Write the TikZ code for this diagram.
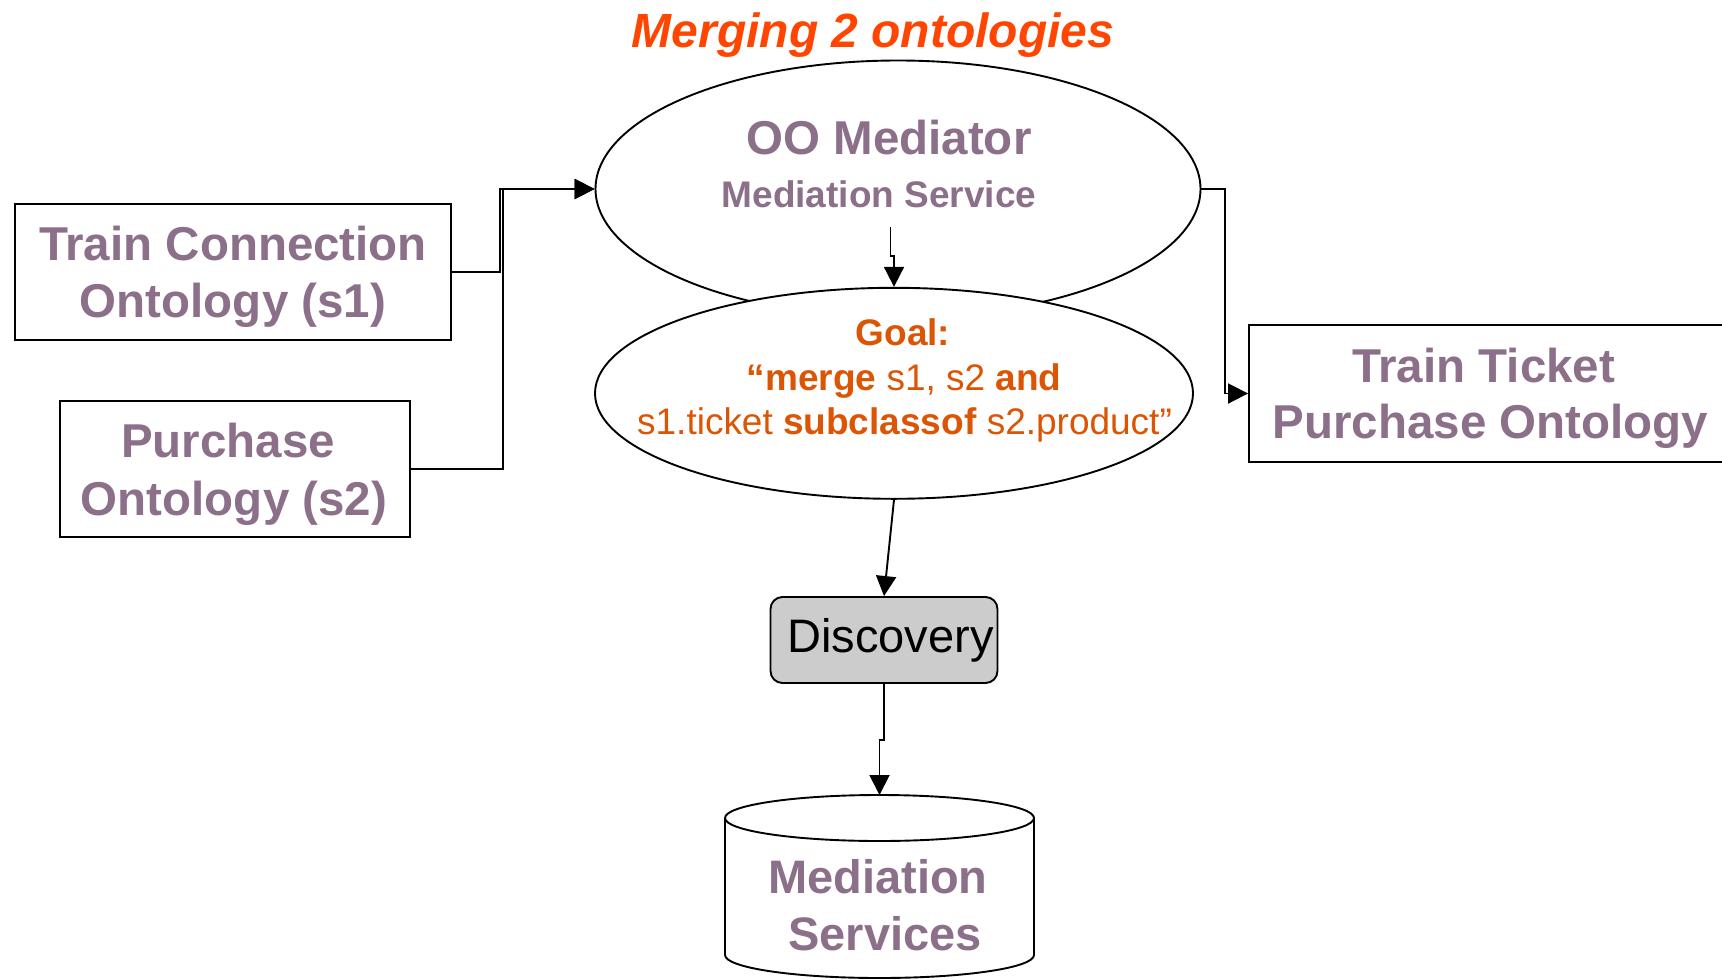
\documentclass[tikz,border=0pt]{standalone}
\usepackage{fontspec}
\setmainfont{Liberation Sans}
\usetikzlibrary{arrows.meta,shapes.geometric}

\definecolor{ontopurple}{RGB}{140,112,138}
\definecolor{titleorange}{RGB}{255,69,0}
\definecolor{goalorange}{RGB}{220,85,5}
\definecolor{discgray}{RGB}{204,204,204}

\begin{document}
\begin{tikzpicture}[x=1pt,y=-1pt,line width=1.9pt,
  flow/.style={draw=black,-{Triangle[length=20pt,width=20pt]}},
  ontobox/.style={draw=black,fill=white,inner sep=0pt},
  bigtxt/.style={anchor=base,text=ontopurple,font=\fontsize{47.5}{58}\selectfont\bfseries},
  midtxt/.style={anchor=base,text=ontopurple,font=\fontsize{37}{44}\selectfont\bfseries},
  goaltxt/.style={anchor=base,text=goalorange,font=\fontsize{37}{44}\selectfont},
  oval/.style={ellipse,draw=black,fill=white,inner sep=0pt}]

% page frame
\useasboundingbox (0,0) rectangle (1722,980);
\fill[white] (0,0) rectangle (1722,980);
\clip (0,0) rectangle (1722,980);

% heading
\node[anchor=base,text=titleorange,font=\fontsize{48}{58}\selectfont\bfseries\itshape]
  (title) at (873,47) {Merging 2 ontologies};

% source ontologies
\node[ontobox,minimum width=436,minimum height=136] (tc) at (233,272) {};
\node[bigtxt] (tc1) at (233,260) {Train Connection};
\node[bigtxt] (tc2) at (233,317) {Ontology (s1)};

\node[ontobox,minimum width=350,minimum height=136] (po) at (235,469) {};
\node[bigtxt] (po1) at (228,457) {Purchase};
\node[bigtxt] (po2) at (234,515) {Ontology (s2)};

% target ontology (runs past the right edge)
\node[ontobox,minimum width=482,minimum height=137] (tt) at (1490,393.5) {};
\node[bigtxt] (tt1) at (1483.6,382) {Train Ticket};
\node[bigtxt] (tt2) at (1490.5,438) {Purchase Ontology};

% mediator and goal
\node[oval,minimum width=605,minimum height=257] (oo) at (898,189) {};
\node[bigtxt] (oo1) at (889,154) {OO Mediator};
\node[midtxt] (oo2) at (879,207) {Mediation Service};

\node[oval,minimum width=598,minimum height=211] (goal) at (894,393.3) {};
\node[goaltxt,font=\fontsize{37}{44}\selectfont\bfseries] (g1) at (903,345) {Goal:};
\node[goaltxt] (g2) at (904,390) {\textbf{“merge} s1, s2 \textbf{and}};
\node[goaltxt] (g3) at (904.5,434) {s1.ticket \textbf{subclassof} s2.product”};

% discovery step
\node[draw=black,fill=discgray,rounded corners=12pt,minimum width=227,minimum height=86,inner sep=0pt]
  (disc) at (884,640) {};
\node[anchor=base,font=\fontsize{47}{56}\selectfont] (disctxt) at (890.5,652) {Discovery};

% repository of mediation services (y axis points down)
\coordinate (cyltop) at (879.5,795);
\filldraw[fill=white,draw=black]
  (725,818) -- (725,955) arc[start angle=180,end angle=0,x radius=154.5,y radius=23]
  -- (1034,818) arc[start angle=0,end angle=-180,x radius=154.5,y radius=23] -- cycle;
\draw (725,818) arc[start angle=180,end angle=0,x radius=154.5,y radius=23];
\node[bigtxt,font=\fontsize{47}{58}\selectfont\bfseries] (ms1) at (878,893) {Mediation};
\node[bigtxt,font=\fontsize{47}{58}\selectfont\bfseries] (ms2) at (885,950) {Services};

% connectors
\coordinate (oostart) at (890.5,227);
\draw[flow] (tc.east) -- (500,272) |- (oo.west);
\draw[flow] (po.east) -- (503,469) |- (oo.west);
\draw[flow] (oo.east) -- (1225,189) |- (tt.west);
\draw[flow] (oostart) -- ++(0,29) -| (goal.north);
\draw[flow] (goal.south) -- (disc.north);
\draw[flow] (disc.south) -- ++(0,56) -| (cyltop);
\end{tikzpicture}
\end{document}
